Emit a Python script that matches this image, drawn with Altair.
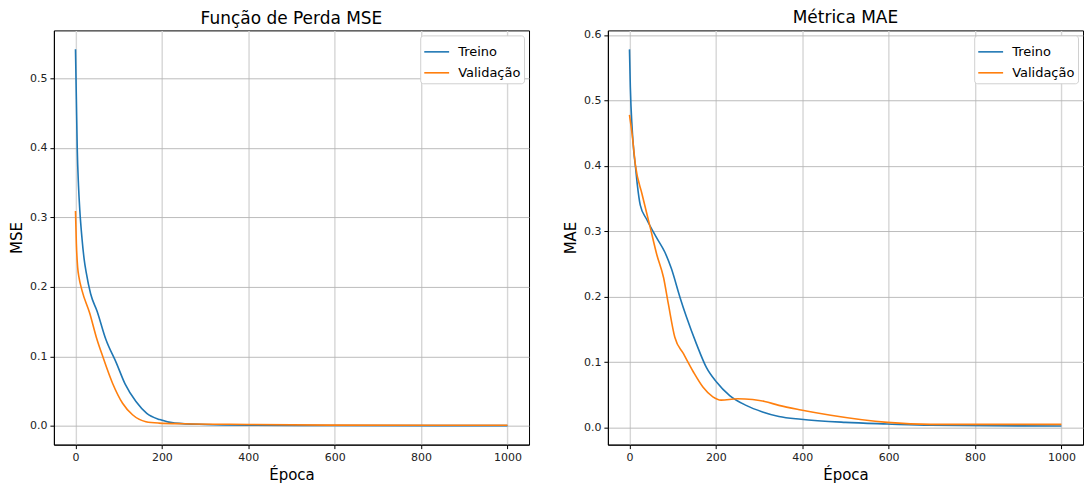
import altair as alt
import pandas as pd

# ---------------- data ----------------
series_names = ["Treino", "Validação"]
series_colors = ["#1f77b4", "#ff7f0e"]
x_ticks = [0, 200, 400, 600, 800, 1000]
mse_ticks = [0.0, 0.1, 0.2, 0.3, 0.4, 0.5]
mae_ticks = [0.0, 0.1, 0.2, 0.3, 0.4, 0.5, 0.6]

mse_treino_ep = [0, 2, 4, 7, 10, 15, 20, 25, 35, 50, 70, 95, 115, 140, 165, 195, 230, 300, 400, 600, 1000]
mse_treino = [0.542, 0.47, 0.40, 0.345, 0.31, 0.27, 0.24, 0.22, 0.19, 0.165, 0.125, 0.09, 0.06,
              0.035, 0.018, 0.009, 0.004, 0.002, 0.001, 0.0005, 0.0003]

mse_val_ep = [0, 2, 5, 8, 15, 33, 48, 63, 86, 109, 132, 163, 193, 250, 400, 600, 1000]
mse_val = [0.309, 0.262, 0.228, 0.214, 0.195, 0.162, 0.128, 0.10, 0.061, 0.0325, 0.016, 0.006,
           0.004, 0.003, 0.002, 0.001, 0.0008]

mae_treino_ep = [0, 2, 6, 10, 14, 18, 25, 40, 63, 82, 97, 117, 132, 155, 178, 201, 232, 270,
                 308, 346, 397, 500, 597, 697, 1000]
mae_treino = [0.578, 0.52, 0.459, 0.422, 0.398, 0.372, 0.34, 0.318, 0.29, 0.268, 0.243, 0.199,
              0.169, 0.128, 0.092, 0.07, 0.049, 0.034, 0.024, 0.017, 0.0127, 0.008, 0.0056,
              0.0036, 0.0025]

mae_val_ep = [0, 6, 14, 29, 48, 63, 79, 90, 105, 125, 148, 170, 193, 212, 250, 285, 313, 346,
              397, 466, 597, 697, 1000]
mae_val = [0.478, 0.449, 0.400, 0.357, 0.306, 0.265, 0.229, 0.189, 0.138, 0.113, 0.085, 0.062,
           0.047, 0.042, 0.044, 0.043, 0.040, 0.034, 0.027, 0.019, 0.008, 0.005, 0.005]


def long_df(ep_a, val_a, ep_b, val_b):
    rows = [{"epoca": e, "valor": v, "serie": series_names[0]} for e, v in zip(ep_a, val_a)]
    rows += [{"epoca": e, "valor": v, "serie": series_names[1]} for e, v in zip(ep_b, val_b)]
    return pd.DataFrame(rows)


df_mse = long_df(mse_treino_ep, mse_treino, mse_val_ep, mse_val)
df_mae = long_df(mae_treino_ep, mae_treino, mae_val_ep, mae_val)

W, H = 476, 415


def panel(df, title, ytitle, ydomain, yticks):
    return alt.Chart(df, title=alt.Title(title)).mark_line(
        interpolate="monotone", strokeWidth=1.6
    ).encode(
        x=alt.X("epoca:Q",
                scale=alt.Scale(domain=[-50, 1050], nice=False, zero=False),
                axis=alt.Axis(values=x_ticks, title="Época", format="d",
                              gridColor="#d6d6d6", gridWidth=1.4)),
        y=alt.Y("valor:Q",
                scale=alt.Scale(domain=ydomain, nice=False, zero=False),
                axis=alt.Axis(values=yticks, title=ytitle, format=".1f",
                              gridColor="#b4b4b4", gridWidth=0.9)),
        color=alt.Color("serie:N",
                        scale=alt.Scale(domain=series_names, range=series_colors),
                        legend=alt.Legend(title=None, orient="top-right", offset=5)),
        detail="serie:N",
    ).properties(width=W, height=H)


left = panel(df_mse, "Função de Perda MSE", "MSE", [-0.027, 0.569], mse_ticks)
right = panel(df_mae, "Métrica MAE", "MAE", [-0.026, 0.607], mae_ticks)

chart = alt.hconcat(left, right, spacing=79, bounds="flush").resolve_legend(
    color="independent"
).properties(
    padding={"left": 9, "top": 8, "right": 0, "bottom": 5}
).configure(
    font="DejaVu Sans"
).configure_view(
    stroke="#000000", strokeWidth=1
).configure_axis(
    labelFont="DejaVu Sans", labelFontSize=11, labelColor="#222222",
    titleFont="DejaVu Sans", titleFontSize=15, titleFontWeight="normal", titleColor="#000000",
    domainColor="#000000", tickColor="#000000", tickSize=4, labelPadding=3,
    titlePadding=5,
).configure_title(
    font="DejaVu Sans", fontSize=17, fontWeight="normal", color="#000000", offset=2
).configure_legend(
    fillColor="#ffffff", strokeColor="#d0d0d0", cornerRadius=3, padding=3,
    labelFont="DejaVu Sans", labelFontSize=13, labelColor="#000000",
    symbolType="stroke", symbolSize=620, symbolStrokeWidth=1.6, labelOffset=8,
    rowPadding=-3,
)

chart.save("out.html", embed_options={"renderer": "svg", "actions": False})
